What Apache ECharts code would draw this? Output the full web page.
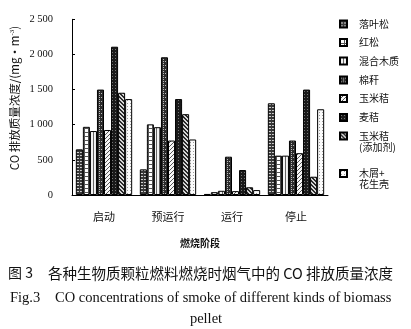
<!DOCTYPE html>
<html>
<head>
<meta charset="utf-8">
<script src="https://cdn.jsdelivr.net/npm/echarts@6/dist/echarts.min.js"></script>
<style>
  html, body { margin: 0; padding: 0; background: #fff; }
  #chart { width: 411px; height: 329px; }
</style>
</head>
<body>
<div id="chart"></div>
<script>
// Combustion stages (x categories)
const categories = ['启动', '预运行', '运行', '停止'];

// Pellet fuel types (series names, as shown in the legend)
const fuelNames = ['落叶松', '红松', '混合木质', '棉秆', '玉米秸', '麦秸', '玉米秸\n(添加剂)', '木屑+\n花生壳'];

// CO mass concentration, mg/m3, one value per stage
const larch      = [650, 365, 15, 1305];
const redPine    = [970, 1005, 40, 560];
const mixedWood  = [910, 965, 60, 560];
const cottonStalk= [1500, 1960, 545, 775];
const cornStalk  = [925, 775, 55, 595];
const wheatStraw = [2110, 1365, 355, 1500];
const cornAdd    = [1455, 1150, 110, 260];
const sawdustPeanut = [1365, 790, 70, 1220];

const seriesValues = [larch, redPine, mixedWood, cottonStalk, cornStalk, wheatStraw, cornAdd, sawdustPeanut];

// Y tick labels
const yTickLabels = ['0', '500', '1 000', '1 500', '2 000', '2 500'];

// Small bitmap tiles used as hatch fills
function tile(w, h, bg, fg, pts) {
  const c = document.createElement('canvas');
  c.width = w; c.height = h;
  const g = c.getContext('2d');
  g.fillStyle = bg; g.fillRect(0, 0, w, h);
  g.fillStyle = fg;
  pts.forEach(p => g.fillRect(p[0], p[1], 1, 1));
  return { image: c, repeat: 'repeat' };
}
const fills = [
  tile(4, 3, '#383838', '#d0d0d0', [[0,2],[1,2],[2,2]]),                    // horizontal lines
  tile(4, 4, '#fff', '#555', [[0,0],[1,0],[2,0],[3,0],[0,1],[0,2],[0,3]]),  // grid
  tile(3, 2, '#f2f2f2', '#666', [[0,0],[0,1]]),                              // vertical lines
  tile(4, 4, '#2c2c2c', '#bbb', [[1,1],[3,3],[3,1]]),                        // dark dotted check
  tile(4, 4, '#f6f6f6', '#555', [[3,0],[2,1],[1,2],[0,3]]),                  // diagonal /
  tile(3, 3, '#1a1a1a', '#777', [[1,1]]),                                    // near black
  tile(4, 4, '#2a2a2a', '#d8d8d8', [[0,0],[1,1],[2,2],[3,3],[1,0],[2,1],[3,2],[0,3]]), // diagonal \
  tile(3, 3, '#fbfbfb', '#9a9a9a', [[1,1]])                                  // light dots
];

const series = fuelNames.map((name, i) => ({
  name: name,
  type: 'bar',
  data: seriesValues[i],
  barGap: '0%',
  barCategoryGap: '12%',
  itemStyle: { color: fills[i], borderColor: '#000', borderWidth: 1 },
  emphasis: { disabled: true },
  animation: false
}));

// One legend block per entry so each line sits where it belongs;
// two-line entries get an empty leading line so the swatch lines up with the first line
const legendCenters = [24, 42.5, 61, 80, 98.5, 117.5, 136, 173.5];
const legends = fuelNames.map((name, i) => {
  const twoLine = name.indexOf('\n') >= 0;
  return {
    data: [name],
    left: 339,
    top: twoLine ? legendCenters[i] - 16.5 : legendCenters[i] - 5.5,
    padding: 0,
    itemWidth: 7,
    itemHeight: 7,
    icon: 'rect',
    selectedMode: false,
    formatter: n => (twoLine ? '\u00a0\n' + n : n),
    textStyle: {
      fontFamily: 'Noto Sans CJK SC',
      fontSize: 10,
      lineHeight: 11,
      color: '#111',
      padding: [0, 0, 0, 7]
    }
  };
});

const chart = echarts.init(document.getElementById('chart'), null, { renderer: 'canvas' });
chart.setOption({
  animation: false,
  backgroundColor: '#fff',
  grid: { left: 72, right: 83, top: 19.3, bottom: 134 },
  legend: legends,
  xAxis: {
    type: 'category',
    data: categories,
    boundaryGap: true,
    axisLine: { lineStyle: { color: '#000', width: 1 } },
    axisTick: { inside: true, length: 3, lineStyle: { color: '#000' } },
    axisLabel: { fontFamily: 'Noto Sans CJK SC', fontSize: 11, color: '#111', margin: 16 },
    name: '燃烧阶段',
    nameLocation: 'middle',
    nameGap: 43,
    nameTextStyle: { fontFamily: 'Noto Sans CJK SC', fontSize: 10, fontWeight: 'bold', color: '#111' }
  },
  yAxis: {
    type: 'value',
    min: 0,
    max: 2500,
    interval: 500,
    axisLine: { show: true, lineStyle: { color: '#000', width: 1 } },
    axisTick: { show: true, inside: true, length: 3, lineStyle: { color: '#000' } },
    splitLine: { show: false },
    axisLabel: {
      fontFamily: 'Liberation Serif',
      fontSize: 10.5,
      color: '#111',
      margin: 19,
      formatter: v => yTickLabels[Math.round(v / 500)]
    }
  },
  graphic: [
    {
      type: 'text',
      x: 15, y: 98,
      rotation: Math.PI / 2,
      style: {
        text: '{n|CO 排放质量浓度/(mg·m}{s|-3}{n|)}',
        align: 'center',
        verticalAlign: 'middle',
        rich: {
          n: { fontFamily: 'Noto Sans CJK SC', fontSize: 11.5, fill: '#111' },
          s: { fontFamily: 'Liberation Serif', fontSize: 7, fill: '#111', verticalAlign: 'top', padding: [0, 0, 5, 0] }
        }
      }
    },
    {
      type: 'text', x: 8, y: 273,
      style: { text: '图 3', fontFamily: 'Noto Sans CJK SC', fontSize: 14, fill: '#111', verticalAlign: 'middle' }
    },
    {
      type: 'text', x: 48, y: 273,
      style: { text: '各种生物质颗粒燃料燃烧时烟气中的 CO 排放质量浓度', fontFamily: 'Noto Sans CJK SC', fontSize: 14.5, fill: '#111', verticalAlign: 'middle' }
    },
    {
      type: 'text', x: 10, y: 298,
      style: { text: 'Fig.3', fontFamily: 'Liberation Serif', fontSize: 14.5, fill: '#111', verticalAlign: 'middle' }
    },
    {
      type: 'text', x: 55, y: 298,
      style: { text: 'CO concentrations of smoke of different kinds of biomass', fontFamily: 'Liberation Serif', fontSize: 14.5, fill: '#111', verticalAlign: 'middle' }
    },
    {
      type: 'text', x: 206, y: 319,
      style: { text: 'pellet', fontFamily: 'Liberation Serif', fontSize: 14.5, fill: '#111', align: 'center', verticalAlign: 'middle' }
    }
  ],
  series: series
});
</script>
</body>
</html>
